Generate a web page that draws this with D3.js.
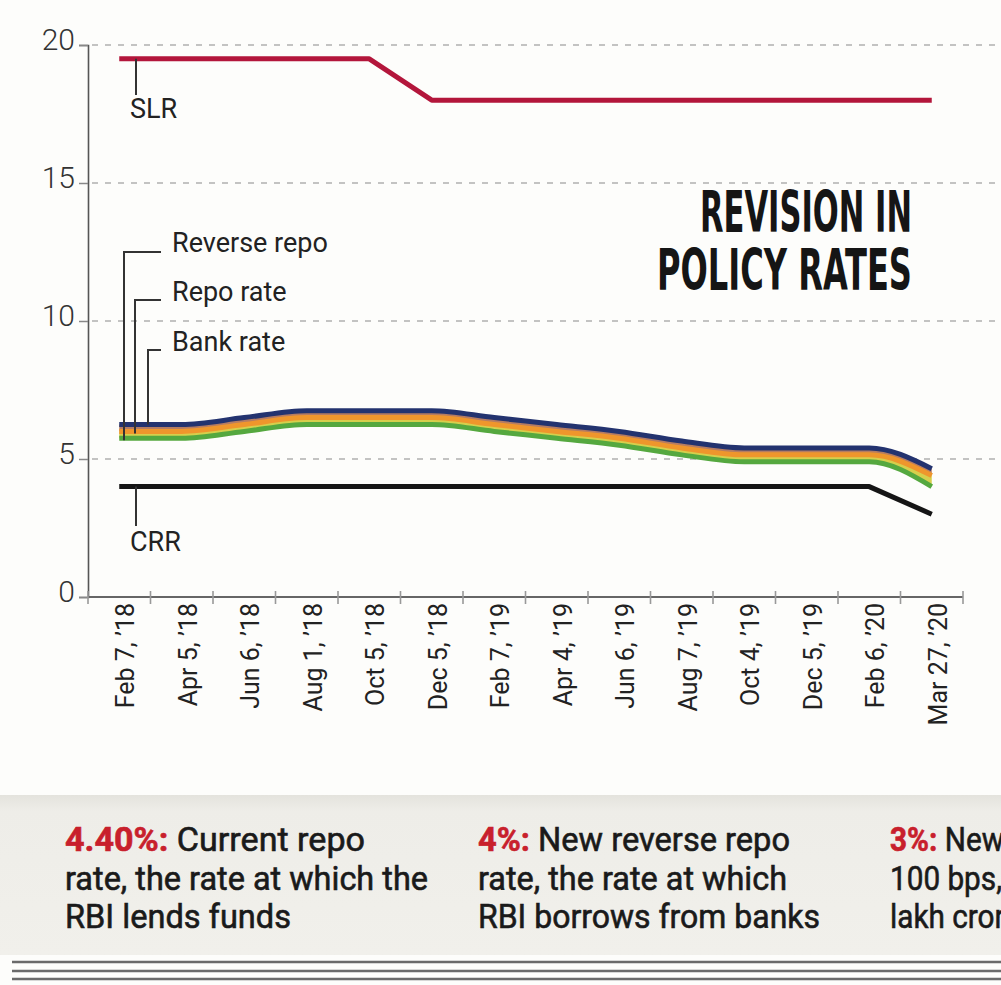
<!DOCTYPE html>
<html>
<head>
<meta charset="utf-8">
<script src="https://cdn.jsdelivr.net/npm/d3@7"></script>
<style>
  html, body { margin: 0; padding: 0; background: #fdfdfb; overflow: hidden; }
  svg { display: block; }
</style>
</head>
<body>
<div class="canvas"></div>
<script>
// data
const categories = ["Feb 7, ’18", "Apr 5, ’18", "Jun 6, ’18", "Aug 1, ’18", "Oct 5, ’18", "Dec 5, ’18",
	"Feb 7, ’19", "Apr 4, ’19", "Jun 6, ’19", "Aug 7, ’19", "Oct 4, ’19", "Dec 5, ’19", "Feb 6, ’20", "Mar 27, ’20"];
const bankRate = [6.25, 6.25, 6.5, 6.75, 6.75, 6.75, 6.5, 6.25, 6.0, 5.65, 5.4, 5.4, 5.4, 4.65];
const repoRate = [6.0, 6.0, 6.25, 6.5, 6.5, 6.5, 6.25, 6.0, 5.75, 5.4, 5.15, 5.15, 5.15, 4.4];
const reverseRepo = [5.75, 5.75, 6.0, 6.25, 6.25, 6.25, 6.0, 5.75, 5.5, 5.15, 4.9, 4.9, 4.9, 4.0];
const slr = [19.5, 19.5, 19.5, 19.5, 19.5, 18, 18, 18, 18, 18, 18, 18, 18, 18];
const crr = [4, 4, 4, 4, 4, 4, 4, 4, 4, 4, 4, 4, 4, 3];
const yTicks = [0, 5, 10, 15, 20];
const titleLines = ['REVISION IN', 'POLICY RATES'];
const notes = [
	{lead: '4.40%: ', lines: ['Current repo', 'rate, the rate at which the', 'RBI lends funds']},
	{lead: '4%: ', lines: ['New reverse repo', 'rate, the rate at which', 'RBI borrows from banks']},
	{lead: '3%: ', lines: ['New CRR, a cut of', '100 bps, to free ₹1.37', 'lakh crore']}
];

const W = 1001, H = 985;
const svg = d3.select('.canvas').append('svg')
	.attr('width', W)
	.attr('height', H);

const FONT = 'Roboto, "Liberation Sans", sans-serif';

// scales
const x = d3.scaleBand()
	.domain(categories)
	.range([88, 963])
	.padding(0);
const cx = d => x(d) + x.bandwidth() / 2;

const y = d3.scaleLinear()
	.domain([0, 20])
	.range([597, 45]);

// gridlines
svg.append('g')
	.selectAll('line')
	.data(yTicks.filter(d => d > 0))
	.enter().append('line')
	.attr('x1', 92).attr('x2', W)
	.attr('y1', d => y(d)).attr('y2', d => y(d))
	.attr('stroke', '#b0b0b0')
	.attr('stroke-width', 1.6)
	.attr('stroke-dasharray', '6,7');

// y axis
const yAxis = d3.axisLeft(y)
	.tickValues(yTicks)
	.tickSize(9)
	.tickPadding(4);
const yAxisGroup = svg.append('g')
	.attr('transform', 'translate(88, 0)')
	.call(yAxis);
yAxisGroup.select('.domain')
	.attr('stroke', '#555')
	.attr('stroke-width', 1.6);
yAxisGroup.selectAll('.tick line')
	.attr('stroke', '#888')
	.attr('stroke-width', 1.5);
yAxisGroup.selectAll('.tick text')
	.attr('font-family', FONT)
	.attr('font-weight', 300)
	.attr('font-size', 30)
	.attr('fill', '#333')
	.attr('dy', '0.15em');

// x axis: labels at band centres, ticks at band edges
const edges = categories.map(d => x(d)).concat([x.range()[1]]);
svg.append('line')
	.attr('x1', 88).attr('x2', 963)
	.attr('y1', y(0)).attr('y2', y(0))
	.attr('stroke', '#666')
	.attr('stroke-width', 2);
svg.append('g')
	.selectAll('line')
	.data(edges)
	.enter().append('line')
	.attr('x1', d => d).attr('x2', d => d)
	.attr('y1', y(0) - 6).attr('y2', y(0) + 7)
	.attr('stroke', '#999')
	.attr('stroke-width', 1.6);
svg.append('g')
	.selectAll('text')
	.data(categories)
	.enter().append('text')
	.attr('transform', d => `translate(${cx(d) + 6}, 603) rotate(-90)`)
	.attr('text-anchor', 'end')
	.attr('dy', '0.35em')
	.attr('font-family', FONT)
	.attr('font-size', 25)
	.attr('fill', '#222')
	.text(d => d);

// lines
const line = (vals, curve) => d3.line()
	.x((v, i) => cx(categories[i]))
	.y(v => y(v))
	.curve(curve)(vals);
const band = (top, bottom) => d3.area()
	.x((v, i) => cx(categories[i]))
	.y0((v, i) => y(bottom[i]))
	.y1(v => y(v))
	.curve(d3.curveMonotoneX)(top);

svg.append('path').attr('d', band(bankRate, repoRate)).attr('fill', '#b57c62');
svg.append('path').attr('d', band(repoRate, reverseRepo)).attr('fill', '#d6cf4c');

const rateLines = [
	{vals: bankRate, color: '#23336f', curve: d3.curveMonotoneX},
	{vals: repoRate, color: '#ef962c', curve: d3.curveMonotoneX},
	{vals: reverseRepo, color: '#55a83f', curve: d3.curveMonotoneX},
	{vals: slr, color: '#b3163b', curve: d3.curveLinear},
	{vals: crr, color: '#151515', curve: d3.curveLinear}
];
svg.append('g')
	.selectAll('path')
	.data(rateLines)
	.enter().append('path')
	.attr('d', d => line(d.vals, d.curve))
	.attr('fill', 'none')
	.attr('stroke', d => d.color)
	.attr('stroke-width', 5)
	.attr('stroke-linejoin', 'round');

// labels with pointers
const labels = [
	{text: 'Reverse repo', px: 124, top: 252, bottom: y(reverseRepo[0]) + 2, tx: 172, ty: 252},
	{text: 'Repo rate', px: 135, top: 300, bottom: y(repoRate[0]) + 2, tx: 172, ty: 301},
	{text: 'Bank rate', px: 148, top: 350, bottom: y(bankRate[0]), tx: 172, ty: 351}
];
labels.forEach(l => {
	svg.append('path')
		.attr('d', `M${l.px},${l.bottom}V${l.top}H161`)
		.attr('fill', 'none')
		.attr('stroke', '#333')
		.attr('stroke-width', 2);
	svg.append('text')
		.attr('x', l.tx).attr('y', l.ty)
		.attr('font-family', FONT)
		.attr('font-size', 27)
		.attr('fill', '#222')
		.text(l.text);
});
svg.append('line')
	.attr('x1', 136).attr('x2', 136)
	.attr('y1', y(slr[0])).attr('y2', 95)
	.attr('stroke', '#333').attr('stroke-width', 2);
svg.append('text')
	.attr('x', 130).attr('y', 118)
	.attr('font-family', FONT).attr('font-size', 27).attr('fill', '#222')
	.text('SLR');
svg.append('line')
	.attr('x1', 136).attr('x2', 136)
	.attr('y1', y(crr[0])).attr('y2', 526)
	.attr('stroke', '#333').attr('stroke-width', 2);
svg.append('text')
	.attr('x', 130).attr('y', 551)
	.attr('font-family', FONT).attr('font-size', 27).attr('fill', '#222')
	.text('CRR');

// title
const titleSpec = [{x: 700, y: 232, len: 212}, {x: 657, y: 290, len: 255}];
svg.append('g')
	.selectAll('text')
	.data(titleLines)
	.enter().append('text')
	.attr('x', (d, i) => titleSpec[i].x)
	.attr('y', (d, i) => titleSpec[i].y)
	.attr('textLength', (d, i) => titleSpec[i].len)
	.attr('lengthAdjust', 'spacingAndGlyphs')
	.attr('font-family', '"DejaVu Sans Condensed", "DejaVu Sans", sans-serif')
	.attr('font-weight', 'bold')
	.attr('font-size', 57)
	.attr('fill', '#151515')
	.text(d => d);

// bottom panel
const defs = svg.append('defs');
const grad = defs.append('linearGradient')
	.attr('id', 'panel')
	.attr('x1', 0).attr('x2', 0).attr('y1', 0).attr('y2', 1);
grad.append('stop').attr('offset', '0%').attr('stop-color', '#e4e3dd');
grad.append('stop').attr('offset', '10%').attr('stop-color', '#eeede8');
grad.append('stop').attr('offset', '100%').attr('stop-color', '#f1f0eb');
svg.append('rect')
	.attr('x', 0).attr('y', 795)
	.attr('width', W).attr('height', 160)
	.attr('fill', 'url(#panel)');

// note text: condensed to the widths seen in the picture
const noteX = [65, 478, 890];
const noteLen = [[300, 363, 226], [312, 309, 342], [null, null, null]];
notes.forEach((n, i) => {
	n.lines.forEach((t, j) => {
		const txt = svg.append('text')
			.attr('x', noteX[i])
			.attr('y', 851 + j * 38.5)
			.attr('font-family', FONT)
			.attr('font-size', 33)
			.attr('fill', '#1a1a1a')
			.attr('stroke', '#1a1a1a')
			.attr('stroke-width', 0.6);
		if (j === 0) {
			txt.append('tspan')
				.attr('fill', '#c8202c')
				.attr('stroke', '#c8202c')
				.attr('font-weight', 'bold')
				.text(n.lead);
		}
		txt.append('tspan').text(t);
		const natural = txt.node().getComputedTextLength();
		const target = noteLen[i][j] || natural * 0.9;
		txt.attr('textLength', target).attr('lengthAdjust', 'spacingAndGlyphs');
	});
});

// rules at the foot
svg.append('g')
	.selectAll('line')
	.data([962, 971, 979])
	.enter().append('line')
	.attr('x1', 12).attr('x2', W)
	.attr('y1', d => d).attr('y2', d => d)
	.attr('stroke', '#6a6a6a')
	.attr('stroke-width', 2.6);
</script>
</body>
</html>
